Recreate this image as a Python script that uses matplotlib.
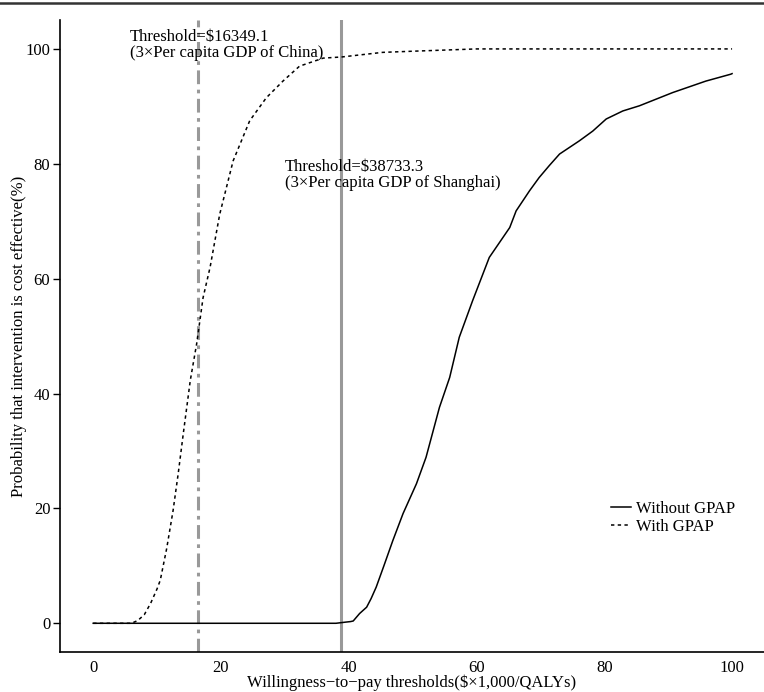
import numpy as np
import matplotlib
matplotlib.use("Agg")
import matplotlib.pyplot as plt
from matplotlib.lines import Line2D

plt.rcParams['font.family'] = ['Liberation Serif', 'DejaVu Serif']
plt.rcParams['font.size'] = 12

# acceptability curves (x in $1,000/QALY, y in %)
wtp_without = [0, 38, 39.5, 40.3, 40.7, 41.7, 42.8, 43.5, 44.3, 45.5, 46.9, 48.5,
               50.6, 52.1, 54.2, 55.8, 57.3, 59.4, 62, 65.2, 66.2, 68.3, 69.8,
               71.4, 73, 76.1, 78.2, 80.3, 82.9, 85.5, 90.7, 95.9, 99.8, 100]
prob_without = [0, 0, 0.2, 0.3, 0.4, 1.7, 2.8, 4.3, 6.3, 10, 14.4, 19.1,
                24.3, 28.9, 37.6, 42.8, 49.8, 56.2, 63.7, 68.9, 71.8, 75.3, 77.6,
                79.7, 81.7, 84, 85.7, 87.8, 89.2, 90.1, 92.4, 94.4, 95.6, 95.7]

wtp_with = [0, 6, 7, 8, 9, 10, 10.5, 11.5, 12.5, 13.3, 14.1, 15.2, 16.2, 17.2,
            18.3, 19.8, 21.9, 24.5, 27.1, 29.7, 32.3, 36, 38.9, 45.3, 50, 55,
            60, 70, 80, 90, 100]
prob_with = [0, 0, 0.5, 1.5, 3.5, 6, 7.5, 13, 19.6, 26, 33, 42.3, 48.7, 56.7,
             62, 71.2, 80.5, 87.5, 91.5, 94.4, 97, 98.4, 98.6, 99.4, 99.6, 99.8,
             100, 100, 100, 100, 100]

thr_china = 16.3491
thr_shanghai = 38.7333
xticks = [0, 20, 40, 60, 80, 100]
yticks = [0, 20, 40, 60, 80, 100]

fig = plt.figure(figsize=(7.64, 6.92), dpi=100)
ax = fig.add_axes([0.0785, 0.0578, 0.9215, 0.913])

ax.axvline(thr_china, color='#999999', lw=2.2, dashes=(4.5, 1.8, 1.2, 1.8))
ax.axvline(thr_shanghai, color='#999999', lw=2.2)

ax.plot(wtp_without, prob_without, color='black', lw=1.1, label='Without GPAP')
ax.plot(wtp_with, prob_with, color='black', lw=1.1, linestyle=(0, (2.2, 2.2)),
        label='With GPAP')

ax.text(5.8, 103.5, 'Threshold=\\$16349.1\n(3\u00d7Per capita GDP of China)',
        ha='left', va='top', fontsize=12, linespacing=1.05)
ax.text(30.0, 80.9, 'Threshold=\\$38733.3\n(3\u00d7Per capita GDP of Shanghai)',
        ha='left', va='top', fontsize=12, linespacing=1.05)

ax.set_xlim(-5.2, 105)
ax.set_ylim(-5, 105)
ax.set_xticks(xticks)
ax.set_yticks(yticks)
ax.tick_params(axis='x', length=0, pad=6, labelsize=12)
ax.tick_params(axis='y', length=5, width=1, direction='out', pad=2, labelsize=12)
for s in ['top', 'right']:
    ax.spines[s].set_visible(False)
ax.spines['left'].set_linewidth(1.2)
ax.spines['bottom'].set_linewidth(1.2)

ax.set_xlabel('Willingness\u2212to\u2212pay thresholds(\\$\u00d71,000/QALYs)',
              fontsize=12, labelpad=-1)
ax.set_ylabel('Probability that intervention is cost effective(%)',
              fontsize=12, labelpad=-1)

ax.legend(loc='upper right', bbox_to_anchor=(0.959, 0.239), frameon=False,
          borderpad=0, borderaxespad=0, handlelength=1.2, handletextpad=0.3,
          labelspacing=0.1, fontsize=12)

# thin rule along the top of the figure
fig.add_artist(Line2D([0, 1], [0.996, 0.996], transform=fig.transFigure,
                      color='#333333', lw=1.8))

fig.savefig('out.png', dpi=100)
